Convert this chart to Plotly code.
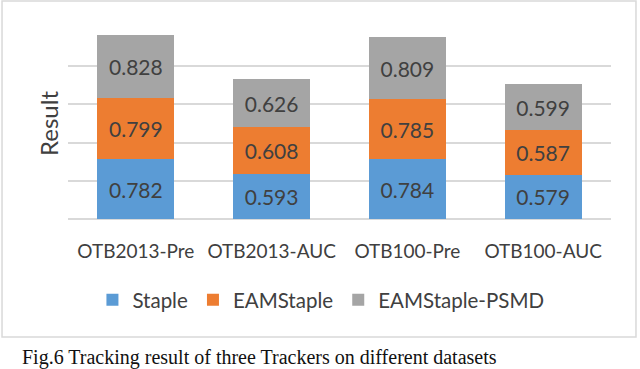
import plotly.graph_objects as go

categories = ['OTB2013-Pre', 'OTB2013-AUC', 'OTB100-Pre', 'OTB100-AUC']
staple = [0.782, 0.593, 0.784, 0.579]
eamstaple = [0.799, 0.608, 0.785, 0.587]
eamstaple_psmd = [0.828, 0.626, 0.809, 0.599]

colors = {
    'Staple': '#5B9BD5',
    'EAMStaple': '#ED7D31',
    'EAMStaple-PSMD': '#A5A5A5',
}
FONT = 'Lato'
TEXT_COLOR = '#404040'

fig = go.Figure()
for name, vals in [('Staple', staple), ('EAMStaple', eamstaple), ('EAMStaple-PSMD', eamstaple_psmd)]:
    fig.add_trace(go.Bar(
        x=categories,
        y=vals,
        name=name,
        marker_color=colors[name],
        marker_line_width=0,
        text=[f'{v:.3f}' for v in vals],
        textposition='inside',
        insidetextanchor='middle',
        textfont=dict(family=FONT, size=21, color=TEXT_COLOR),
        hoverinfo='x+y+name',
    ))

fig.update_layout(
    barmode='stack',
    bargap=0.434,
    width=640,
    height=369,
    margin=dict(l=68, r=29, t=28, b=150),
    paper_bgcolor='white',
    plot_bgcolor='white',
    font=dict(family=FONT, color=TEXT_COLOR),
    showlegend=True,
    legend=dict(
        orientation='h',
        x=0.045, xanchor='left',
        y=-0.424, yanchor='middle',
        font=dict(family=FONT, size=20.5, color=TEXT_COLOR),
        itemwidth=30,
        traceorder='normal',
    ),
    xaxis=dict(
        tickfont=dict(family=FONT, size=19, color=TEXT_COLOR),
        ticks='outside', ticklen=15, tickcolor='rgba(0,0,0,0)',
        showline=False, showgrid=False,
    ),
    yaxis=dict(
        range=[0, 2.5], dtick=0.5,
        showticklabels=False,
        showgrid=True, gridcolor='#D9D9D9', gridwidth=1.5,
        zeroline=True, zerolinecolor='#D9D9D9', zerolinewidth=1.5,
    ),
)

# y axis title
fig.add_annotation(
    text='Result', textangle=-90,
    xref='paper', yref='paper', x=-0.036, y=0.5,
    xanchor='center', yanchor='middle', showarrow=False,
    font=dict(family=FONT, size=24, color=TEXT_COLOR),
)

# caption below the chart box
fig.add_annotation(
    text='Fig.6 Tracking result of three Trackers on different datasets',
    xref='paper', yref='paper', x=-0.088, y=-0.725,
    xanchor='left', yanchor='middle', showarrow=False,
    font=dict(family='Liberation Serif', size=20, color='#111111'),
)

# chart area border
fig.add_shape(
    type='rect', xref='paper', yref='paper',
    x0=-0.1215, x1=1.046, y0=-0.618, y1=1.141,
    line=dict(color='#D9D9D9', width=1.5), fillcolor='rgba(0,0,0,0)', layer='below',
)

fig.write_html('out.html', config={'displayModeBar': False},
               post_script="document.body.style.margin='0';")
